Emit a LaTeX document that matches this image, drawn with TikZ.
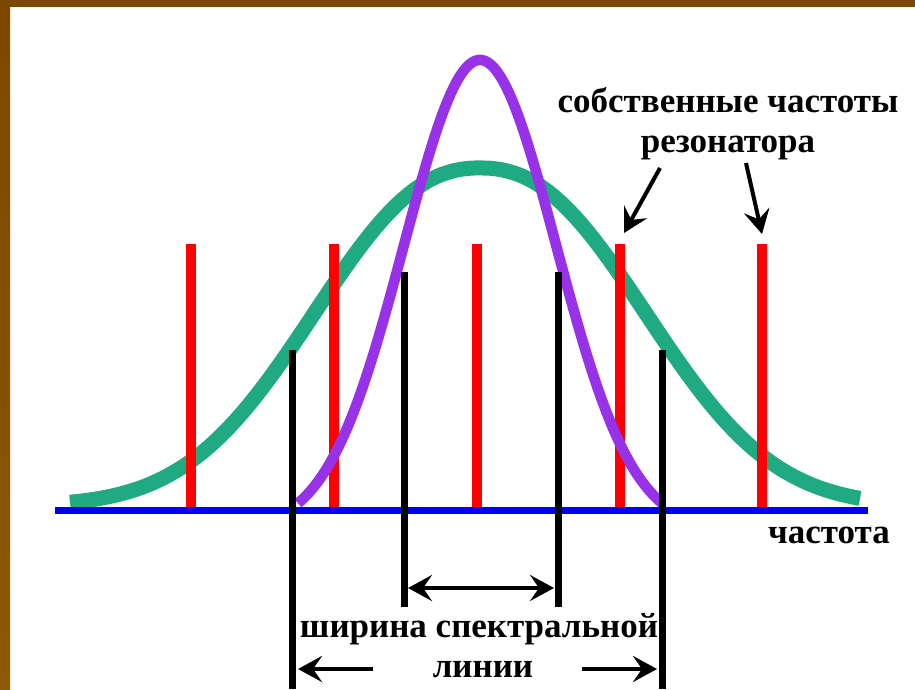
\documentclass[tikz,border=0pt]{standalone}
\usepackage{fontspec}
\setmainfont{Liberation Serif}
\usetikzlibrary{arrows.meta}

\definecolor{frameTop}{RGB}{124,72,0}
\definecolor{frameBot}{RGB}{140,90,0}
\definecolor{bandGreen}{RGB}{32,170,130}
\definecolor{linePurple}{RGB}{152,50,232}
\definecolor{axisBlue}{RGB}{0,0,240}
\definecolor{modeRed}{RGB}{255,0,0}

\tikzset{
  label text/.style={font=\fontsize{35}{40}\selectfont\bfseries, inner sep=0pt, anchor=base},
  pointer/.style={line width=4pt, -{Stealth[length=24pt,width=26pt,inset=9pt]}},
  span/.style={line width=4pt, {Stealth[length=24pt,width=26pt,inset=9pt]}-{Stealth[length=24pt,width=26pt,inset=9pt]}},
}

\begin{document}
\begin{tikzpicture}[x=1pt,y=-1pt,line join=round]
  \useasboundingbox (0,0) rectangle (915,689);
  \fill[white] (0,0) rectangle (915,689);

  % Frame (left and top)
  \shade[top color=frameTop, bottom color=frameBot] (0,0) rectangle (10,689);
  \fill[frameTop] (0,0) rectangle (915,7);

  % Gain contour (wide line)
  \draw[bandGreen, line width=15pt] plot[domain=70:860, samples=120]
    (\x, {506 - 338*exp(-exp(2.3*ln(abs(\x-480)/213 + 0.0001)))});

  % Frequency axis
  \draw[axisBlue, line width=7pt] (55,510) -- (868,510);

  % Resonator modes
  \foreach \x in {191,334,477,620,762}{
    \draw[modeRed, line width=10pt] (\x,507) -- (\x,244);
  }

  % Narrow spectral line
  \draw[linePurple, line width=10.5pt] plot[domain=298:662, samples=120]
    (\x, {530 - 470*exp(-((\x-480)/107.5)*((\x-480)/107.5))});

  % Width markers
  \foreach \x/\top/\bot in {292/350/689, 404/272/607, 558/272/607, 662/350/689}{
    \draw[black, line width=7pt] (\x,\top) -- (\x,\bot);
  }

  % Labels
  \node[label text] (modes) at (728,112) {собственные частоты};
  \node[label text] (reso) at (728,152) {резонатора};
  \node[label text] (axis) at (829,543) {частота};
  \node[label text] (width) at (479,637) {ширина спектральной};
  \node[label text] (lines) at (483,677) {линии};

  % Arrow ends
  \coordinate (tailA) at (660,168);
  \coordinate (tipA) at (624,233);
  \coordinate (tailB) at (746,163);
  \coordinate (tipB) at (762,234);
  \coordinate (innerL) at (408,588);
  \coordinate (innerR) at (554,588);
  \coordinate (outerL) at (298,669);
  \coordinate (startL) at (373,669);
  \coordinate (startR) at (582,669);
  \coordinate (outerR) at (657,669);

  \draw[pointer] (tailA) -- (tipA);
  \draw[pointer] (tailB) -- (tipB);
  \draw[span] (innerL) -- (innerR);
  \draw[pointer] (startL) -- (outerL);
  \draw[pointer] (startR) -- (outerR);
\end{tikzpicture}
\end{document}
